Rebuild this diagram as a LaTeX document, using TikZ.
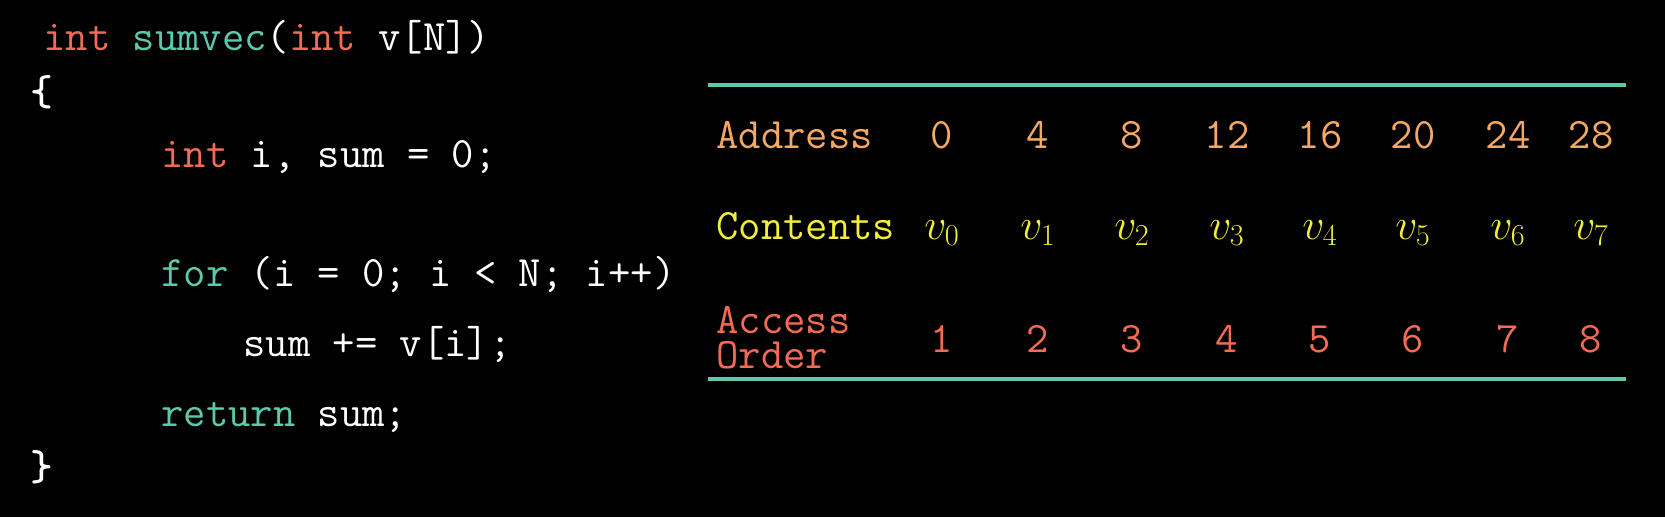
\documentclass[tikz,border=0pt]{standalone}
\definecolor{kwred}{HTML}{F26B52}
\definecolor{kwteal}{HTML}{5CC9AE}
\definecolor{addrorange}{HTML}{F5A862}
\definecolor{contyellow}{HTML}{F2EE3C}
\definecolor{ordred}{HTML}{F26B55}
\tikzset{
  code/.style={anchor=base west, text=white, inner sep=0pt},
  cell/.style={anchor=base, inner sep=0pt},
  rule/.style={draw=kwteal, line width=0.08cm}
}
\begin{document}
\begin{tikzpicture}[x=0.02cm, y=-0.02cm, font=\ttfamily\fontsize{24.7}{30}\selectfont]
\fill[black] (0,0) rectangle (1665,517);
\useasboundingbox (0,0) rectangle (1665,517);

%code
\def\kw#1{\textcolor{kwred}{#1}}
\def\fn#1{\textcolor{kwteal}{#1}}
\node[code] (sig) at (43,51) {\kw{int} \fn{sumvec}(\kw{int} v[N])};
\node[code] (open) at (30,106) {\textbf{\{}};
\node[code] (decl) at (161,167) {\kw{int} i, sum = 0;};
\node[code] (loop) at (161,286) {\fn{for} (i = 0; i < N; i++)};
\node[code] (body) at (243,356) {sum += v[i];};
\node[code] (ret) at (161,426) {\fn{return} sum;};
\node[code] (close) at (30,480) {\textbf{\}}};

%table
\draw[rule] (708,85) -- (1626,85);
\draw[rule] (708,379) -- (1626,379);
\node[code, text=addrorange] (addr) at (716,148) {Address};
\node[code, text=contyellow] (cont) at (716,239) {Contents};
\node[code, text=ordred, align=left, font=\ttfamily\fontsize{24.7}{19.9}\selectfont] (ord) at (716,368) {Access\\Order};
\foreach \x/\a/\o [count=\i from 0] in {942/0/1, 1038/4/2, 1132/8/3, 1227/12/4, 1320/16/5, 1413/20/6, 1508/24/7, 1591/28/8}
{
\node[cell, text=addrorange] (a\i) at (\x,148) {\a};
\node[cell, text=contyellow] (c\i) at (\x,239) {$v_{\i}$};
\node[cell, text=ordred] (o\i) at (\x,352) {\o};
}
\end{tikzpicture}
\end{document}
